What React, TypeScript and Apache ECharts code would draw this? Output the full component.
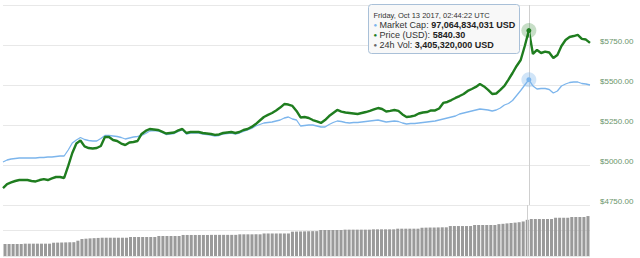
import React, { useEffect, useRef } from "react";
import * as echarts from "echarts";

// Price (USD), one point every 10 minutes
const PRICE = [
  4856, 4881, 4891, 4900, 4906, 4906, 4906, 4900, 4897, 4906, 4912, 4906, 4916, 4925, 4925, 4919,
  4994, 5075, 5134, 5153, 5116, 5106, 5103, 5106, 5119, 5175, 5175, 5156, 5150, 5134, 5125, 5141, 5144, 5150, 5194, 5213, 5225,
  5222, 5219, 5209, 5197, 5200, 5203, 5216, 5225, 5200, 5206, 5206, 5206, 5200, 5197, 5194, 5188, 5191, 5200, 5203, 5206, 5200, 5206,
  5219, 5225, 5238, 5256, 5278, 5300, 5313, 5325, 5341, 5359, 5381, 5378, 5369, 5338, 5297, 5300, 5294, 5281, 5272, 5263, 5281,
  5306, 5325, 5344, 5334, 5328, 5325, 5322, 5319, 5325, 5331, 5338, 5347, 5356, 5350, 5334, 5338, 5344, 5338, 5316, 5300, 5303,
  5309, 5322, 5328, 5331, 5341, 5341, 5353, 5388, 5394, 5406, 5419, 5431, 5444, 5463, 5475, 5488, 5506, 5491, 5469, 5444, 5447,
  5469, 5494, 5534, 5575, 5619, 5656, 5744, 5840.3, 5694, 5719, 5700, 5709, 5703, 5669, 5688, 5744, 5781, 5800, 5806, 5813, 5788, 5784, 5763,
];

// Market cap (billion USD)
const MCAP = [
  80.6, 81.0, 81.2, 81.3, 81.4, 81.4, 81.4, 81.4, 81.4, 81.5, 81.5, 81.6, 81.6, 81.7, 81.8, 81.8,
  83.0, 84.4, 85.0, 85.5, 85.1, 84.9, 84.8, 84.8, 85.3, 85.9, 85.9, 85.8, 85.7, 85.5, 85.2, 85.4, 85.6, 85.7, 85.9, 86.3, 86.8,
  86.9, 86.8, 86.5, 86.1, 86.2, 86.3, 86.7, 87.0, 86.2, 86.4, 86.4, 86.4, 86.2, 86.1, 86.0, 85.8, 85.9, 86.2, 86.3, 86.4, 86.2, 86.4,
  86.7, 87.0, 87.3, 87.8, 88.1, 88.4, 88.5, 88.6, 88.8, 89.0, 89.4, 89.6, 89.2, 89.0, 87.8, 87.9, 88.0, 88.0, 87.8, 87.6, 87.6,
  88.1, 88.5, 88.8, 88.7, 88.5, 88.4, 88.5, 88.5, 88.6, 88.7, 88.8, 88.9, 89.0, 88.8, 88.6, 88.7, 88.8, 88.7, 88.4, 88.2, 88.3,
  88.3, 88.4, 88.5, 88.6, 88.7, 88.8, 89.0, 89.2, 89.4, 89.6, 89.8, 90.2, 90.4, 90.6, 90.8, 91.0, 91.2, 91.1, 91.0, 90.8, 91.0,
  91.4, 92.0, 92.3, 92.9, 93.9, 94.9, 96.0, 97.06, 95.8, 95.2, 95.3, 95.3, 95.1, 94.4, 94.8, 95.8, 96.2, 96.5, 96.6, 96.6, 96.3, 96.2, 96.0,
];

// 24h volume (billion USD)
const VOLUME = [
  1.13, 1.13, 1.13, 1.13, 1.13,
  1.16, 1.16, 1.16, 1.16, 1.16, 1.16, 1.16,
  1.25, 1.26, 1.27, 1.28, 1.29, 1.30,
  1.44,
  1.60, 1.63, 1.66, 1.68, 1.70, 1.72,
  1.72, 1.72, 1.72, 1.72, 1.72, 1.72,
  1.79, 1.79, 1.79, 1.79, 1.79, 1.79, 1.79,
  1.88, 1.88, 1.88, 1.88, 1.88, 1.88,
  1.98, 1.98, 1.98, 1.98, 1.98, 1.98, 1.98,
  1.99, 1.99, 1.99, 1.99, 1.99, 1.99, 1.99,
  2.04, 2.04, 2.04, 2.04, 2.04, 2.04,
  2.12, 2.12, 2.12, 2.12, 2.12, 2.12, 2.12,
  2.29, 2.30, 2.31, 2.32, 2.33, 2.34, 2.34,
  2.45, 2.45, 2.45, 2.45, 2.45, 2.45,
  2.48, 2.48, 2.48, 2.48, 2.48, 2.48, 2.48,
  2.51, 2.51, 2.51, 2.51, 2.51, 2.51,
  2.57, 2.57, 2.57, 2.57, 2.57, 2.57,
  2.66, 2.67, 2.68, 2.68, 2.69, 2.70, 2.70,
  2.82, 2.82, 2.82, 2.82, 2.82, 2.82,
  2.92, 2.92, 2.92, 2.92, 2.92, 2.92,
  3.00, 3.03, 3.07, 3.10, 3.14, 3.18, 3.25,
  3.40532,
  3.48, 3.48, 3.48, 3.48, 3.48, 3.48,
  3.60, 3.60, 3.60, 3.60,
  3.67, 3.67, 3.67, 3.67,
  3.76,
];

const PEAK = 129;
const START_UTC = Date.UTC(2017, 9, 12, 5, 14, 22);
const STEP_MINUTES = 10;
const TIMES = PRICE.map((_, i) =>
  new Date(START_UTC + i * STEP_MINUTES * 60000).toISOString().slice(0, 16).replace("T", " ")
);

const TIP_DATE = "Friday, Oct 13 2017, 02:44:22 UTC";
const TIP_MCAP = "97,064,834,031 USD";
const TIP_PRICE = "5840.30";
const TIP_VOL = "3,405,320,000 USD";

const GREEN = "#1f7d1f";
const BLUE = "#7cb5ec";
const GREY_BAR = "#9a9a9a";
const FONT = "'Liberation Sans', Arial, sans-serif";

export default function App() {
  const ref = useRef<HTMLDivElement>(null);

  useEffect(() => {
    if (!ref.current) return;
    const chart = echarts.init(ref.current, undefined, { renderer: "svg" });
    const vline = (idx: number) => ({
      silent: true,
      symbol: "none",
      label: { show: false },
      lineStyle: { color: "#cfcfcf", width: 1, type: "solid" as const },
      data: [{ xAxis: idx }],
    });
    const halo = (idx: number, value: number, solid: string, soft: string) => ({
      silent: true,
      label: { show: false },
      data: [
        { coord: [idx, value], symbol: "circle", symbolSize: 15, itemStyle: { color: soft } },
        { coord: [idx, value], symbol: "circle", symbolSize: 5, itemStyle: { color: solid } },
      ],
    });
    const tipLine = (y: number, label: string, value: string, dot: string) => ({
      type: "text",
      x: 5,
      y,
      z: 101,
      style: {
        text: "{d|●} " + label + " {b|" + value + "}",
        fontSize: 9,
        fill: "#333333",
        fontFamily: FONT,
        rich: {
          d: { fontSize: 6, fill: dot, color: dot },
          b: { fontSize: 9, fontWeight: "bold", fill: "#222222", color: "#222222", fontFamily: FONT },
        },
      },
    });
    chart.setOption({
      animation: false,
      backgroundColor: "#ffffff",
      grid: [
        { left: 3, right: 50, top: 5, height: 200 },
        { left: 3, right: 50, top: 205, height: 51 },
      ],
      xAxis: [
        { type: "category", gridIndex: 0, data: TIMES, boundaryGap: false, show: false },
        { type: "category", gridIndex: 1, data: TIMES, boundaryGap: true, show: false },
      ],
      yAxis: [
        {
          type: "value",
          gridIndex: 0,
          position: "right",
          min: 4750,
          max: 6000,
          interval: 250,
          axisLine: { show: false },
          axisTick: { show: false },
          splitLine: { lineStyle: { color: "#e8e8e8", width: 1 } },
          axisLabel: {
            formatter: (v: number) => "$" + v.toFixed(2),
            color: "#6b956b",
            fontSize: 8,
            fontFamily: FONT,
            margin: 10,
            verticalAlign: "bottom",
            showMaxLabel: false,
          },
        },
        { type: "value", gridIndex: 0, min: 72, max: 112, show: false },
        {
          type: "value",
          gridIndex: 1,
          min: 0,
          max: 4.8,
          interval: 2.4,
          axisLine: { show: false },
          axisTick: { show: false },
          axisLabel: { show: false },
          splitLine: { lineStyle: { color: "#e8e8e8", width: 1 } },
        },
      ],
      series: [
        {
          name: "Market Cap",
          type: "line",
          xAxisIndex: 0,
          yAxisIndex: 1,
          data: MCAP,
          symbol: "none",
          z: 2,
          lineStyle: { color: BLUE, width: 1.3 },
          itemStyle: { color: BLUE },
          markPoint: halo(PEAK, MCAP[PEAK], BLUE, "rgba(124,181,236,0.35)"),
        },
        {
          name: "Price (USD)",
          type: "line",
          xAxisIndex: 0,
          yAxisIndex: 0,
          data: PRICE,
          symbol: "none",
          z: 3,
          lineStyle: { color: GREEN, width: 2.4 },
          itemStyle: { color: GREEN },
          markLine: vline(PEAK),
          markPoint: halo(PEAK, PRICE[PEAK], GREEN, "rgba(31,125,31,0.25)"),
        },
        {
          name: "24h Vol",
          type: "bar",
          xAxisIndex: 1,
          yAxisIndex: 2,
          data: VOLUME,
          barCategoryGap: "25%",
          itemStyle: { color: GREY_BAR },
          markLine: vline(PEAK),
        },
      ],
      graphic: [
        {
          type: "group",
          left: 368,
          top: 4,
          z: 100,
          children: [
            {
              type: "rect",
              z: 100,
              shape: { x: 0, y: 0, width: 151, height: 49, r: 3 },
              style: { fill: "#f8f8f8", stroke: "#a9c0d8", lineWidth: 1 },
            },
            {
              type: "text",
              x: 5,
              y: 7,
              z: 101,
              style: { text: TIP_DATE, fontSize: 7.5, fill: "#333333", fontFamily: FONT },
            },
            tipLine(16, "Market Cap:", TIP_MCAP, BLUE),
            tipLine(26, "Price (USD):", TIP_PRICE, GREEN),
            tipLine(36, "24h Vol:", TIP_VOL, "#666666"),
          ],
        },
      ],
    });
    return () => chart.dispose();
  }, []);

  return <div ref={ref} style={{ width: 640, height: 258, position: "absolute", left: 0, top: 0 }} />;
}
